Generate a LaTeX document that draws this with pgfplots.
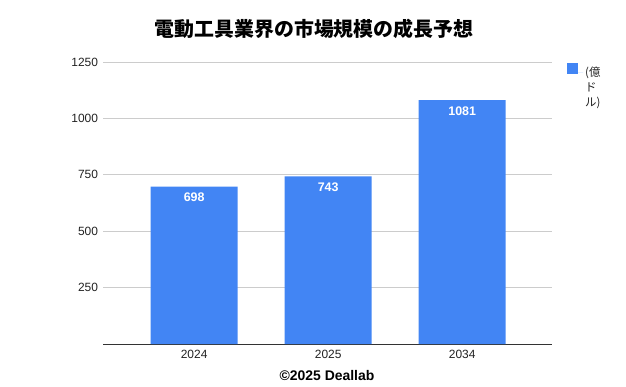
\documentclass[border=0pt]{standalone}
\usepackage{fontspec}
\setmainfont{Liberation Sans}
\newfontfamily\jp{Noto Sans CJK JP}
\usepackage{pgfplots}
\pgfplotsset{compat=1.18}
\definecolor{barblue}{HTML}{4285F4}
\definecolor{gridgray}{HTML}{CCCCCC}
\definecolor{axisgray}{HTML}{333333}
\definecolor{txt}{HTML}{222222}
\begin{document}
\begin{tikzpicture}[x=1bp,y=1bp]
\path[use as bounding box] (0,0) rectangle (626,386);
\begin{axis}[
  at={(103bp,42bp)}, anchor=south west,
  scale only axis, width=449bp, height=282bp,
  xmin=-0.68, xmax=2.67, ymin=0, ymax=1250,
  ybar, bar width=87bp,
  xtick={0,1,2}, xticklabels={2024,2025,2034},
  ytick={250,500,750,1000,1250},
  ymajorgrids, grid style={gridgray, line width=0.8bp},
  axis x line*=bottom, axis y line*=left,
  y axis line style={draw=none},
  x axis line style={axisgray, line width=0.9bp, -},
  major tick length=0pt, xtick style={draw=none}, ytick style={draw=none},
  /pgf/number format/assume math mode=true,
  /pgf/number format/1000 sep={},
  tick label style={font=\fontsize{12}{14}\selectfont, text=txt},
  yticklabel style={xshift=-1.5bp},
  xticklabel style={yshift=-3bp},
  legend style={draw=none, fill=none, at={(1.0334,0.9965)}, anchor=north west,
    inner sep=0pt, font=\jp\fontsize{11.5}{15}\selectfont, text=txt},
  legend cell align=left,
  legend image code/.code={\fill[barblue] (0bp,-2bp) rectangle (11bp,9bp); \path (0bp,0bp) -- (16bp,0bp);},
]
\addplot[fill=barblue, draw=none, nodes near coords,
  every node near coord/.append style={anchor=north, text=white,
    font=\bfseries\fontsize{12.5}{14}\selectfont, yshift=-3bp}]
  coordinates {(0,698) (1,743) (2,1081)};
\addlegendentry{\begin{tabular}[t]{@{}l@{}}(億\\ド\\ル)\end{tabular}}
\end{axis}
\node[font=\jp\bfseries\fontsize{20}{24}\selectfont, text=black] at (314,357) {電動工具業界の市場規模の成長予想};
\node[font=\bfseries\fontsize{14}{16}\selectfont, anchor=base, text=black] at (327,6) {©2025 Deallab};
\end{tikzpicture}
\end{document}
